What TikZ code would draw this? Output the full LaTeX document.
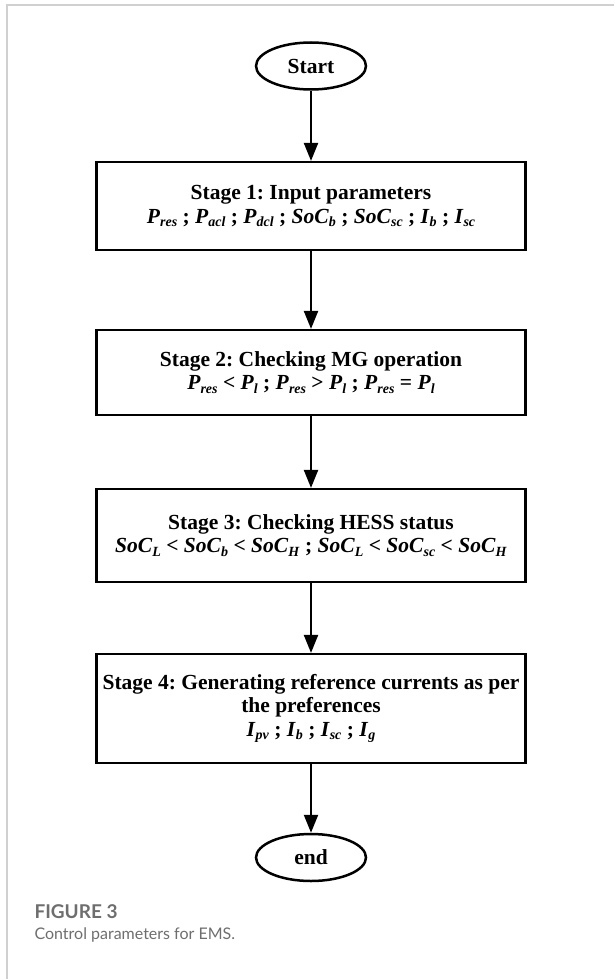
\documentclass[tikz,border=0pt]{standalone}
\usepackage{fontspec}
\setmainfont{Liberation Serif}
\newfontfamily\capfont{Lato}
\usetikzlibrary{shapes.geometric,arrows.meta}
\frenchspacing

\definecolor{framegray}{HTML}{D0D0D0}
\definecolor{capgray}{HTML}{6E6E6E}

% variable with a small, lowered subscript
\newcommand{\var}[2]{\textit{#1}\raisebox{-0.35ex}{\fontsize{14}{14}\selectfont\textit{#2}}}

\begin{document}
\begin{tikzpicture}[x=1pt, y=-1pt, >={Triangle[length=18pt,width=14pt]},
  every node/.style={align=center, font=\fontsize{21.5}{23.5}\selectfont\bfseries},
  stagebox/.style={draw, rectangle, line width=2.2pt, minimum width=429pt, inner sep=0pt},
  terminal/.style={draw, ellipse, line width=2.5pt, minimum width=110pt, minimum height=47pt, inner sep=0pt},
  flow/.style={->, line width=2.2pt}]

\useasboundingbox (0,0) rectangle (614,979);

% Frame
\draw[framegray, line width=1.5pt] (7,979) -- (7,5) -- (614,5);

% Nodes
\node[terminal] (start) at (311,66) {Start};
\node[stagebox, minimum height=88pt] (input) at (311,206)
  {Stage 1: Input parameters\\
   \var{P}{res} ; \var{P}{acl} ; \var{P}{dcl} ; \var{SoC}{b} ; \var{SoC}{sc} ; \var{I}{b} ; \var{I}{sc}};
\node[stagebox, minimum height=85pt] (mgop) at (311,372.5)
  {Stage 2: Checking MG operation\\
   \var{P}{res} < \var{P}{l} ; \var{P}{res} > \var{P}{l} ; \var{P}{res} = \var{P}{l}};
\node[stagebox, minimum height=93pt] (hess) at (311,535.5)
  {Stage 3: Checking HESS status\\
   \var{SoC}{L} < \var{SoC}{b} < \var{SoC}{H} ; \var{SoC}{L} < \var{SoC}{sc} < \var{SoC}{H}};
\node[stagebox, minimum height=109pt] (refcur) at (311,708.5)
  {Stage 4: Generating reference currents as per\\ the preferences\\
   \var{I}{pv} ; \var{I}{b} ; \var{I}{sc} ; \var{I}{g}};
\node[terminal] (end) at (311,857.5) {end};

% Caption
\node[anchor=west, font=\capfont\fontsize{19}{21}\selectfont\bfseries, text=capgray] (figno) at (31,912) {FIGURE 3};
\node[anchor=west, font=\capfont\fontsize{16}{18}\selectfont, text=capgray] (figcap) at (31,935) {Control parameters for EMS.};

% Edges
\draw[flow] (start.south) -- (input.north);
\draw[flow] (input.south) -- (mgop.north);
\draw[flow] (mgop.south) -- (hess.north);
\draw[flow] (hess.south) -- (refcur.north);
\draw[flow] (refcur.south) -- (end.north);

\end{tikzpicture}
\end{document}
